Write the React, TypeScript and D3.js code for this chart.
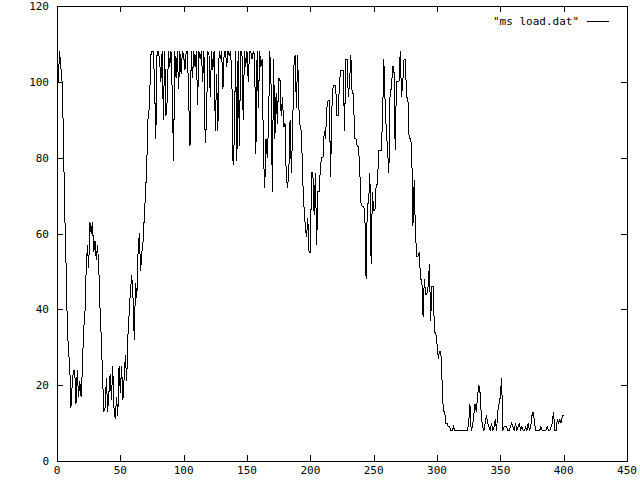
import React from "react";
import * as d3 from "d3";

const seriesName = '"ms load.dat"';
const xTicks = [0, 50, 100, 150, 200, 250, 300, 350, 400, 450];
const yTicks = [0, 20, 40, 60, 80, 100, 120];

const load: number[] = [
  108, 100, 108, 104, 100, 87, 67, 54, 38, 29,
  26, 14, 20, 24, 24, 15, 24, 17, 21, 17,
  24, 35, 38, 50, 57, 51, 63, 60, 63, 55,
  58, 53, 57, 51, 40, 32, 22, 13, 14, 22,
  13, 18, 23, 16, 25, 14, 11, 17, 12, 25,
  18, 25, 16, 22, 28, 21, 33, 39, 45, 49,
  43, 32, 47, 43, 55, 60, 50, 55, 58, 65,
  71, 80, 92, 93, 107, 108, 108, 100, 85, 108,
  108, 106, 100, 108, 90, 108, 91, 95, 108, 104,
  108, 97, 79, 108, 101, 108, 98, 108, 102, 108,
  107, 103, 108, 108, 95, 83, 108, 101, 108, 104,
  108, 94, 108, 106, 108, 100, 108, 84, 89, 108,
  107, 96, 108, 103, 108, 87, 102, 87, 108, 106,
  108, 98, 108, 108, 104, 108, 107, 108, 102, 78,
  85, 108, 79, 108, 83, 108, 108, 90, 108, 104,
  108, 100, 108, 108, 106, 108, 107, 81, 108, 93,
  108, 104, 106, 81, 72, 85, 80, 89, 108, 99,
  71, 106, 85, 97, 89, 101, 101, 91, 96, 88,
  89, 75, 72, 76, 90, 76, 87, 104, 107, 93,
  107, 93, 88, 87, 74, 67, 62, 59, 64, 55,
  55, 76, 76, 65, 76, 57, 71, 71, 78, 80,
  80, 87, 85, 93, 95, 95, 75, 93, 99, 99,
  99, 91, 91, 100, 103, 103, 103, 87, 106, 106,
  96, 100, 107, 97, 97, 85, 85, 83, 83, 77,
  68, 67, 67, 66, 48, 68, 68, 76, 52, 71,
  66, 66, 73, 73, 82, 82, 82, 90, 106, 95,
  87, 82, 76, 98, 98, 104, 104, 82, 100, 100,
  100, 108, 96, 100, 106, 106, 96, 96, 85, 85,
  83, 62, 74, 60, 54, 54, 55, 48, 48, 38,
  48, 44, 44, 46, 52, 37, 46, 46, 34, 34,
  31, 27, 29, 29, 21, 13, 13, 10, 10, 9,
  9, 8, 8, 9, 8, 8, 8, 8, 8, 8,
  8, 8, 8, 8, 8, 10, 15, 8, 9, 12,
  15, 13, 17, 20, 18, 12, 9, 8, 10, 12,
  10, 9, 8, 10, 8, 9, 11, 8, 13, 15,
  17, 22, 8, 9, 9, 9, 8, 8, 9, 10,
  9, 8, 10, 8, 9, 10, 8, 9, 8, 8,
  9, 8, 10, 8, 9, 12, 13, 10, 8, 8,
  8, 8, 9, 8, 8, 8, 8, 9, 8, 8,
  9, 10, 13, 8, 8, 11, 10, 11, 10, 12,
  12,
];

const W = 640;
const H = 480;
const left = 57;
const right = 627;
const top = 6;
const bottom = 461;
const tickLen = 6;

export default function App() {
  const x = d3.scaleLinear().domain([0, 450]).range([left, right]);
  const y = d3.scaleLinear().domain([0, 120]).range([bottom, top]);
  const line = d3
    .line<number>()
    .x((_, i) => x(i))
    .y((v) => y(v));
  const path = line(load) || "";
  const font = "'DejaVu Sans Mono', monospace";
  return (
    <svg
      width={W}
      height={H}
      style={{ position: "absolute", left: 0, top: 0, background: "#fff" }}
    >
      <rect x={0} y={0} width={W} height={H} fill="#fff" />
      <g shapeRendering="crispEdges" stroke="#000" strokeWidth={1}>
        <rect
          x={left + 0.5}
          y={top + 0.5}
          width={right - left}
          height={bottom - top}
          fill="none"
        />
        {xTicks.map((t) => (
          <g key={"x" + t}>
            <line x1={Math.round(x(t)) + 0.5} x2={Math.round(x(t)) + 0.5} y1={bottom} y2={bottom - tickLen} />
            <line x1={Math.round(x(t)) + 0.5} x2={Math.round(x(t)) + 0.5} y1={top} y2={top + tickLen} />
          </g>
        ))}
        {yTicks.map((t) => (
          <g key={"y" + t}>
            <line x1={left} x2={left + tickLen} y1={Math.round(y(t)) + 0.5} y2={Math.round(y(t)) + 0.5} />
            <line x1={right} x2={right - tickLen} y1={Math.round(y(t)) + 0.5} y2={Math.round(y(t)) + 0.5} />
          </g>
        ))}
      </g>
      <g fontFamily={font} fontSize={11} fill="#000">
        {xTicks.map((t) => (
          <text key={"xl" + t} x={x(t)} y={474} textAnchor="middle">
            {t}
          </text>
        ))}
        {yTicks.map((t) => (
          <text key={"yl" + t} x={49} y={y(t) + 4} textAnchor="end">
            {t}
          </text>
        ))}
        <text x={579} y={25} textAnchor="end">
          {seriesName}
        </text>
      </g>
      <line x1={587} x2={609} y1={21.5} y2={21.5} stroke="#000" strokeWidth={1} shapeRendering="crispEdges" />
      <path d={path} fill="none" stroke="#000" strokeWidth={1} shapeRendering="crispEdges" />
    </svg>
  );
}
